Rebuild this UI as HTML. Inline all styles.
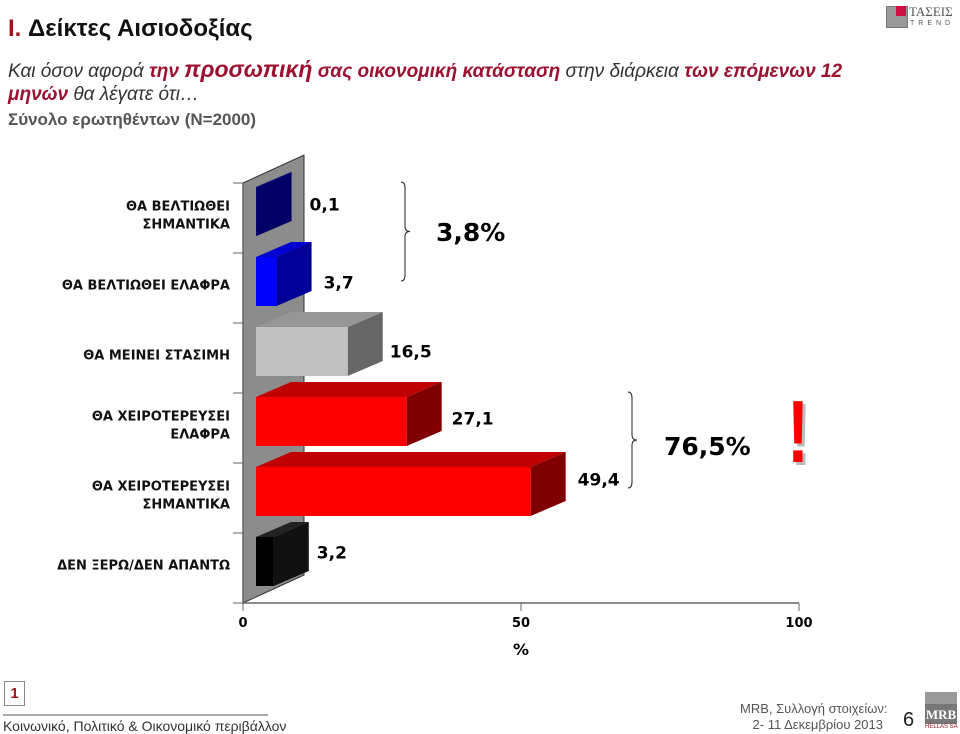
<!DOCTYPE html>
<html><head><meta charset="utf-8">
<style>
body{margin:0;width:960px;height:733px;background:#fff;overflow:hidden;font-family:"Liberation Sans","DejaVu Sans",sans-serif;position:relative}
.a{position:absolute;white-space:nowrap}
</style></head><body>
<div class="a" style="left:8px;top:15px;font-size:24px;font-weight:bold;color:#111"><span style="color:#a0141e">I.</span> Δείκτες Αισιοδοξίας</div>
<div class="a" style="left:8px;top:56px;font-size:19px;font-style:italic;color:#333">Και όσον αφορά <b style="color:#9c1030">την <span style="font-size:23px">προσωπική</span> σας οικονομική κατάσταση</b> στην διάρκεια <b style="color:#9c1030">των επόμενων 12</b></div>
<div class="a" style="left:8px;top:84px;font-size:19px;font-style:italic;color:#333"><b style="color:#9c1030">μηνών</b> θα λέγατε ότι…</div>
<div class="a" style="left:8px;top:110px;font-size:17px;font-weight:bold;color:#555">Σύνολο ερωτηθέντων (N=2000)</div>
<div class="a" style="left:886px;top:4px;width:70px;height:26px">
<div style="position:absolute;left:0;top:2px;width:20px;height:20px;background:#999;border:1px solid #777"></div>
<div style="position:absolute;left:10px;top:2px;width:10px;height:10px;background:#d01040"></div>
<div style="position:absolute;left:23px;top:0;font-size:13px;color:#555;font-family:'Liberation Serif',serif">ΤΑΣΕΙΣ</div>
<div style="position:absolute;left:24px;top:16px;font-size:7px;letter-spacing:4px;color:#555">TREND</div></div>

<svg class="a" style="left:0;top:0" width="960" height="733" id="chart">
</svg>

<div class="a" style="left:4px;top:681px;width:19px;height:23px;border:1px solid #888;color:#a0141e;font-weight:bold;font-size:15px;text-align:center;line-height:23px">1</div>
<div class="a" style="left:3px;top:714px;width:265px;height:2px;background:#aaa"></div>
<div class="a" style="left:3px;top:718px;font-size:14px;color:#333">Κοινωνικό, Πολιτικό &amp; Οικονομικό περιβάλλον</div>
<div class="a" style="left:740px;top:701px;font-size:13px;color:#555;text-align:right;line-height:16px;width:143px">MRB, Συλλογή στοιχείων:<br>2- 11 Δεκεμβρίου 2013</div>
<div class="a" style="left:903px;top:709px;font-size:20px;color:#222">6</div>
<div class="a" style="left:925px;top:692px;width:32px;height:40px">
<div style="height:12px;background:#999"></div><div style="height:20px;background:#777;color:#fff;font-family:'Liberation Serif',serif;font-size:13px;text-align:center;font-weight:bold;line-height:22px">MRB</div>
<div style="font-size:6px;color:#a0141e;text-align:center">HELLAS SA</div></div>

<script>
const categories=["ΘΑ ΒΕΛΤΙΩΘΕΙ|ΣΗΜΑΝΤΙΚΑ","ΘΑ ΒΕΛΤΙΩΘΕΙ ΕΛΑΦΡΑ","ΘΑ ΜΕΙΝΕΙ ΣΤΑΣΙΜΗ","ΘΑ ΧΕΙΡΟΤΕΡΕΥΣΕΙ|ΕΛΑΦΡΑ","ΘΑ ΧΕΙΡΟΤΕΡΕΥΣΕΙ|ΣΗΜΑΝΤΙΚΑ","ΔΕΝ ΞΕΡΩ/ΔΕΝ ΑΠΑΝΤΩ"];
const values=[0.1,3.7,16.5,27.1,49.4,3.2];
const valueLabels=["0,1","3,7","16,5","27,1","49,4","3,2"];
const tickValues=[0,50,100];
const tickLabels=["0","50","100"];
const frontColors=["#000080","#0000ff","#c0c0c0","#ff0000","#ff0000","#000000"];
const topColors=["#00007a","#0000d0","#969696","#c00000","#c00000","#222"];
const sideColors=["#000066","#000099","#666666","#800000","#800000","#111"];

const NS="http://www.w3.org/2000/svg";
const svg=document.getElementById('chart');
const X0=243,X1=799,YT=183,YB=603,DX=35,DY=-15,FX=13;
const labelShift=[[6,3],[0,11],[-5,0],[-2,-3],[0,-12],[-4,3]];
const xs=v=>X0+(v-tickValues[0])/(tickValues[tickValues.length-1]-tickValues[0])*(X1-X0);
const band=(YB-YT)/categories.length;
const yTop=i=>YT+i*band+4;
const BH=49;
function mk(tag,at){const e=document.createElementNS(NS,tag);for(const k in at)e.setAttribute(k,at[k]);svg.appendChild(e);return e;}
let w=mk('polygon',{points:`${X0},${YT} ${X0+61},${YT-28} ${X0+61},${YB-28} ${X0},${YB}`,fill:'#8c8c8c',stroke:'#333','stroke-width':1});

let ay=mk('line',{x1:X0,y1:YT,x2:X0,y2:YB,stroke:'#666','stroke-width':1.5});

let ax=mk('line',{x1:X0,y1:YB,x2:X1,y2:YB,stroke:'#666','stroke-width':1.5});

for(let i=0;i<=categories.length;i++){
  let t=mk('line',{x1:X0-10,y1:YT+i*band,x2:X0,y2:YT+i*band,stroke:'#666'});
  
}
tickValues.forEach((v,i)=>{
  let t=mk('line',{x1:xs(v),y1:YB,x2:xs(v),y2:YB+8,stroke:'#666'});
  
  let l=mk('text',{x:xs(v),y:YB+24,'text-anchor':'middle','font-size':13,'font-weight':'bold','font-family':'DejaVu Sans, sans-serif'});
  l.textContent=tickLabels[i];
  
});
let xt=mk('text',{x:xs(50),y:YB+52,'text-anchor':'middle','font-size':16,'font-weight':'bold','font-family':'DejaVu Sans, sans-serif'});
xt.textContent='%';
const BX=X0+FX;
categories.forEach((c,i)=>{
  const y=yTop(i),x2=BX+(xs(values[i])-X0);
  let tp=mk('polygon',{points:`${BX},${y} ${BX+DX},${y+DY} ${x2+DX},${y+DY} ${x2},${y}`,fill:topColors[i]});
  
  let sd=mk('polygon',{points:`${x2},${y} ${x2+DX},${y+DY} ${x2+DX},${y+BH+DY} ${x2},${y+BH}`,fill:sideColors[i]});
  
  let fr=mk('rect',{x:BX,y:y,width:Math.max(0,x2-BX),height:BH,fill:frontColors[i]});
  
  let vl=mk('text',{x:x2+DX+12+labelShift[i][0],y:y+BH/2+(i<2?-4:6)+(i==5?-12:0)+labelShift[i][1],'font-size':17,'font-weight':'bold','font-family':'DejaVu Sans, sans-serif'});
  vl.textContent=valueLabels[i];
  
  const parts=c.split('|');
  parts.forEach((p,k)=>{
    let cl=mk('text',{x:230,y:y+BH/2+8-(parts.length-1)*9+k*18,'text-anchor':'end','font-size':13,'font-weight':'bold','fill':'#111','font-family':'DejaVu Sans, sans-serif'});
    cl.textContent=p;
    
  });
});
function brace(x,y1,y2,name){
  const m=(y1+y2)/2;
  let p=mk('path',{d:`M${x-4},${y1} Q${x},${y1} ${x},${y1+6} L${x},${m-5} Q${x},${m} ${x+5},${m} Q${x},${m} ${x},${m+5} L${x},${y2-6} Q${x},${y2} ${x-4},${y2}`,fill:'none',stroke:'#222','stroke-width':1});
  
}
brace(405,182,281,'brace-improve');
brace(632,392,488,'brace-worsen');
let s1=mk('text',{x:436,y:241,'font-size':25,'font-weight':'bold','font-family':'DejaVu Sans, sans-serif'});
s1.textContent='3,8%';
let s2=mk('text',{x:664,y:455,'font-size':25,'font-weight':'bold','font-family':'DejaVu Sans, sans-serif'});
s2.textContent='76,5%';
let ex2=mk('text',{x:0,y:0,'font-size':88,'font-weight':'bold',fill:'#bbb','font-family':'Liberation Sans, sans-serif','text-anchor':'middle',transform:'translate(801,465) scale(0.75,1)'});
ex2.textContent='!';
let ex=mk('text',{x:0,y:0,'font-size':88,'font-weight':'bold',fill:'#f00','font-family':'Liberation Sans, sans-serif','text-anchor':'middle',transform:'translate(798,462) scale(0.75,1)'});
ex.textContent='!';
</script>
</body></html>
